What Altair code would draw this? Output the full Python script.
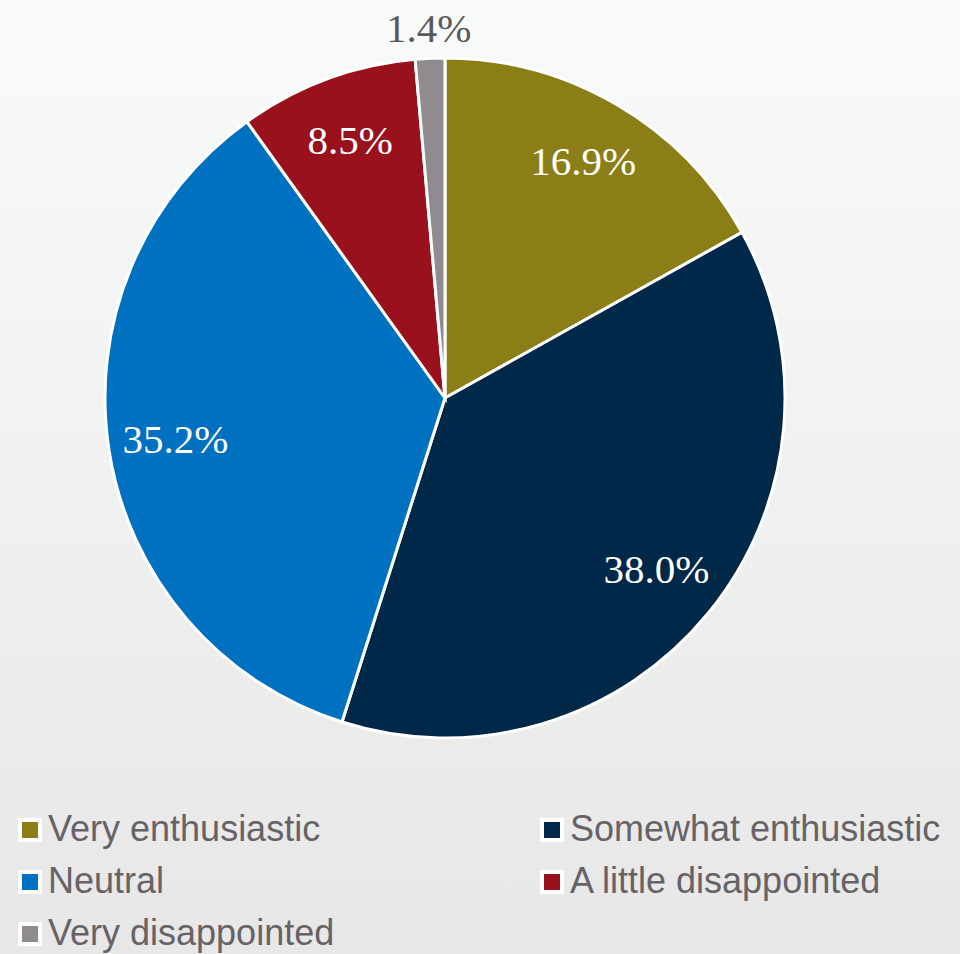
import altair as alt
import pandas as pd

categories = ["Very enthusiastic", "Somewhat enthusiastic", "Neutral",
              "A little disappointed", "Very disappointed"]
values = [16.9, 38.0, 35.2, 8.5, 1.4]
labels = ["16.9%", "38.0%", "35.2%", "8.5%", "1.4%"]
colors = ["#8B7E17", "#002848", "#0070C0", "#9A111E", "#8F8B8F"]
outside = [False, False, False, False, True]

# legend reads row by row: Vega fills columns first, so reorder the domain
legend_order = [0, 2, 4, 1, 3]
legend_domain = [categories[i] for i in legend_order]
legend_range = [colors[i] for i in legend_order]

df = pd.DataFrame({
    "category": categories,
    "value": values,
    "label": labels,
    "order": list(range(len(categories))),
    "inner_label": [("" if o else l) for l, o in zip(labels, outside)],
    "outer_label": [(l if o else "") for l, o in zip(labels, outside)],
})

W, H = 960, 954
CX, CY = 445, 398
R = 340

bg = alt.Chart(pd.DataFrame({"a": [0]})).mark_rect(
    color=alt.LinearGradient(
        gradient="linear",
        stops=[alt.GradientStop(color="#f9fafa", offset=0),
               alt.GradientStop(color="#e7e7e7", offset=1)],
        x1=0, x2=0, y1=0, y2=1,
    )
).encode(x=alt.value(0), x2=alt.value(W), y=alt.value(0), y2=alt.value(H))

base = alt.Chart(df).encode(
    theta=alt.Theta("value:Q", stack=True),
    order=alt.Order("order:Q"),
)

color_scale = alt.Scale(domain=legend_domain, range=legend_range)

arcs = base.mark_arc(stroke="white", strokeWidth=3).encode(
    x=alt.value(CX), y=alt.value(CY),
    radius=alt.value(R),
    color=alt.Color(
        "category:N", scale=color_scale,
        legend=alt.Legend(
            title=None, orient="none", legendX=12, legendY=812, direction="vertical",
            columns=2, columnPadding=199, rowPadding=16,
            symbolType="square", symbolSize=400, symbolStrokeColor="white",
            symbolStrokeWidth=4, symbolOpacity=1,
            labelFont="Liberation Sans", labelFontSize=36, labelColor="#666266",
            labelOffset=0, labelLimit=500,
        ),
    ),
)

inner = base.mark_text(font="Liberation Serif", fontSize=41, color="white").encode(
    x=alt.value(CX), y=alt.value(CY),
    radius=alt.value(273),
    text="inner_label:N",
)

outer = base.mark_text(font="Liberation Serif", fontSize=41, color="#595959").encode(
    x=alt.value(CX), y=alt.value(CY),
    radius=alt.value(368),
    text="outer_label:N",
)

chart = alt.layer(bg, arcs, inner, outer).properties(
    width=W, height=H, padding=0, autosize=alt.AutoSizeParams(type="none"),
).configure_view(stroke=None).configure(background="#f9fafa")

chart.save("out.html", embed_options={"renderer": "svg", "actions": False})
